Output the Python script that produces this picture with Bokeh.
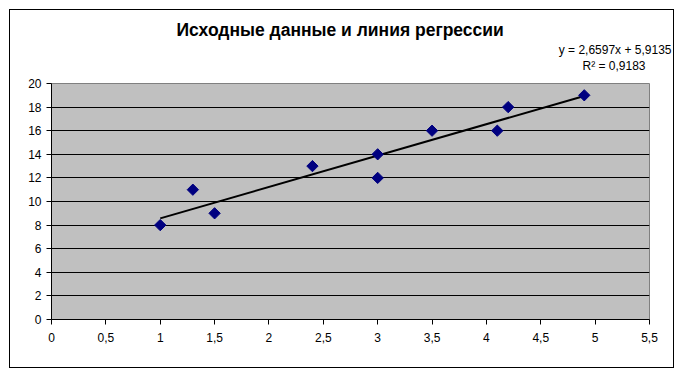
import numpy as np
from bokeh.plotting import figure
from bokeh.models import FixedTicker, Title, ColumnDataSource
from bokeh.embed import file_html
from bokeh.resources import INLINE

title_text = "Исходные данные и линия регрессии"
x_vals = [1.0, 1.3, 1.5, 2.4, 3.0, 3.0, 3.5, 4.1, 4.2, 4.9]
y_vals = [8, 11, 9, 13, 14, 12, 16, 16, 18, 19]
x_ticks = [0, 0.5, 1, 1.5, 2, 2.5, 3, 3.5, 4, 4.5, 5, 5.5]
y_ticks = [0, 2, 4, 6, 8, 10, 12, 14, 16, 18, 20]

slope, intercept = np.polyfit(x_vals, y_vals, 1)
pred = slope * np.array(x_vals) + intercept
ss_res = float(np.sum((np.array(y_vals) - pred) ** 2))
ss_tot = float(np.sum((np.array(y_vals) - np.mean(y_vals)) ** 2))
r2 = 1 - ss_res / ss_tot

def fmt(v, d=4):
    return f"{v:.{d}f}".replace(".", ",")

FONT = "Liberation Sans"

p = figure(x_range=(0, 5.5), y_range=(0, 20),
           output_backend="svg", toolbar_location=None,
           frame_width=598, frame_height=236,
           min_border_left=41, min_border_top=72, min_border_right=24, min_border_bottom=48)
p.margin = (9, 0, 0, 9)
p.styles = {"border": "1px solid black"}
p.background_fill_color = "#C0C0C0"
p.border_fill_color = "white"
p.outline_line_color = "#808080"
p.outline_line_width = 1

p.title.text = title_text
p.title.align = "left"
p.title.offset = 125
p.title.text_font = FONT
p.title.text_font_size = "17.5px"
p.title.text_font_style = "bold"
p.title.text_color = "black"
p.title.standoff = 14

# spacer closest to the frame
p.add_layout(Title(text=" ", text_font_size="1px", standoff=1.5), "above")
p.add_layout(Title(text=f"R² = {fmt(r2)}", align="right", text_font=FONT,
                   text_font_size="12px", text_font_style="normal",
                   text_color="black", offset=4, standoff=12), "above")
p.add_layout(Title(text=f"y = {fmt(slope)}x + {fmt(intercept)}", align="right",
                   text_font=FONT, text_font_size="12px", text_font_style="normal",
                   text_color="black", offset=-22, standoff=-12), "above")

p.xgrid.grid_line_color = None
p.ygrid.grid_line_color = "black"
p.ygrid.grid_line_width = 1

for ax in (p.xaxis, p.yaxis):
    ax.axis_line_color = "black"
    ax.major_tick_line_color = "black"
    ax.major_tick_out = 5
    ax.major_tick_in = 0
    ax.minor_tick_line_color = None
    ax.major_label_text_font = FONT
    ax.major_label_text_font_size = "12px"
    ax.major_label_text_color = "black"

p.xaxis.ticker = FixedTicker(ticks=x_ticks)
p.xaxis.major_label_overrides = {t: (str(t).replace(".", ",") if t != int(t) else str(int(t))) for t in x_ticks}
p.xaxis.major_label_standoff = 8
p.yaxis.ticker = FixedTicker(ticks=y_ticks)
p.yaxis.major_label_standoff = 5

lx = [min(x_vals), max(x_vals)]
ly = [slope * v + intercept for v in lx]
p.line(lx, ly, line_color="black", line_width=2)

src = ColumnDataSource(dict(x=x_vals, y=y_vals))
p.scatter("x", "y", source=src, marker="square", size=8, angle=np.pi / 4,
          fill_color="#000080", line_color="#000080")

open("out.html", "w").write(file_html(p, INLINE))
